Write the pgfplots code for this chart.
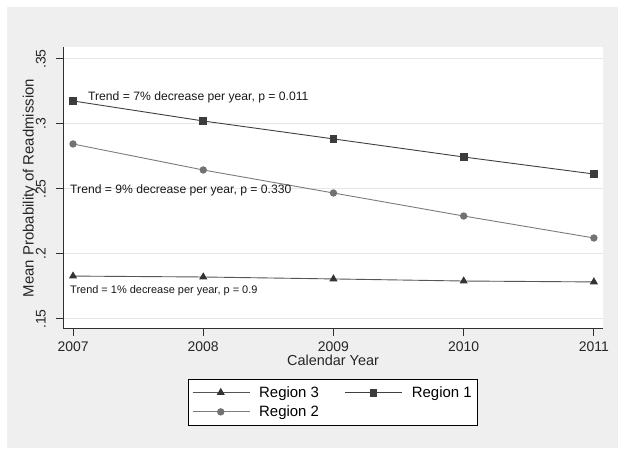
\documentclass[border=0pt]{standalone}
\usepackage{fontspec}
\setmainfont{Liberation Sans}
\usepackage{pgfplots}
\pgfplotsset{compat=1.18}
\definecolor{bggray}{HTML}{EFEFEF}
\definecolor{gridgray}{HTML}{E6E6E6}
\definecolor{rone}{HTML}{3C3C3C}
\definecolor{ronel}{HTML}{404040}
\definecolor{rtwo}{HTML}{727272}
\definecolor{rtwol}{HTML}{7C7C7C}
\definecolor{rthree}{HTML}{333333}
\definecolor{rthreel}{HTML}{555555}
\definecolor{axgray}{HTML}{303030}
\begin{document}
\begin{tikzpicture}[x=1bp,y=1bp]
\useasboundingbox (0,0) rectangle (624,456);
\fill[white] (0,0) rectangle (624,456);
\fill[bggray] (7,8) rectangle (618,449);
\begin{axis}[
  at={(63bp,127bp)}, anchor=south west,
  scale only axis, width=540bp, height=282bp,
  xmin=2006.923, xmax=2011.07, ymin=0.1423, ymax=0.3592,
  axis background/.style={fill=white},
  axis x line*=bottom, axis y line*=left,
  axis line style={-, draw=axgray, line width=1bp},
  tick style={draw=axgray, line width=1bp},
  tick align=outside, major tick length=7bp,
  xtick={2007,2008,2009,2010,2011},
  xticklabels={2007,2008,2009,2010,2011},
  ytick={0.15,0.2,0.25,0.3,0.35},
  yticklabels={.15,.2,.25,.3,.35},
  ticklabel style={font=\fontsize{14}{16}\selectfont, text=black!85},
  yticklabel style={rotate=90, anchor=base, inner sep=0pt, yshift=10.5bp},
  xticklabel style={anchor=north, inner sep=0pt, yshift=-6bp},
  ymajorgrids, grid style={draw=gridgray, line width=1bp},
  xlabel={Calendar Year},
  xlabel style={at={(axis description cs:0.5,-0.131)}, anchor=base, inner sep=0pt, font=\fontsize{14.5}{16}\selectfont, text=black!85},
  ylabel={Mean Probability of Readmission},
  ylabel style={at={(axis description cs:-0.0545,0.5)}, rotate=0, anchor=base, inner sep=0pt, font=\fontsize{15}{16}\selectfont, text=black!85},
  legend columns=2,
  legend cell align=left,
  legend style={at={(axis description cs:0.5,-0.177)}, anchor=north, draw=black, line width=1bp, fill=white,
    font=\fontsize{15}{17}\selectfont, inner xsep=4bp, inner ysep=5bp, row sep=3bp,
    /tikz/every odd column/.append style={column sep=7bp},
    /tikz/every even column/.append style={column sep=24bp}},
  legend image code/.code={\draw[#1, mark repeat=2, mark phase=2] plot coordinates {(0bp,0bp) (28bp,0bp) (57bp,0bp)};},
]
\addplot[color=rthreel, line width=0.9bp, mark=triangle*, mark size=3.8bp, mark options={fill=rthree, draw=rthree}] coordinates {
(2007,0.1830) (2008,0.1823) (2009,0.1808) (2010,0.1792) (2011,0.1785)};
\addlegendentry{Region 3}
\addplot[color=ronel, line width=0.9bp, mark=square*, mark size=3.4bp, mark options={fill=rone, draw=rone}] coordinates {
(2007,0.3177) (2008,0.3023) (2009,0.2885) (2010,0.2746) (2011,0.2615)};
\addlegendentry{Region 1}
\addplot[color=rtwol, line width=0.9bp, mark=*, mark size=3.2bp, mark options={fill=rtwo, draw=rtwo}] coordinates {
(2007,0.2846) (2008,0.2646) (2009,0.2469) (2010,0.2292) (2011,0.2123)};
\addlegendentry{Region 2}
\node[anchor=west, inner sep=0pt, font=\fontsize{12.2}{14}\selectfont, text=black!90] at (axis cs:2007.115,0.3208) {Trend = 7\% decrease per year, p = 0.011};
\node[anchor=west, inner sep=0pt, font=\fontsize{12.2}{14}\selectfont, text=black!90] at (axis cs:2006.977,0.2492) {Trend = 9\% decrease per year, p = 0.330};
\node[anchor=west, inner sep=0pt, font=\fontsize{11}{13}\selectfont, text=black!90] at (axis cs:2006.977,0.1715) {Trend = 1\% decrease per year, p = 0.9};
\end{axis}
\end{tikzpicture}
\end{document}
